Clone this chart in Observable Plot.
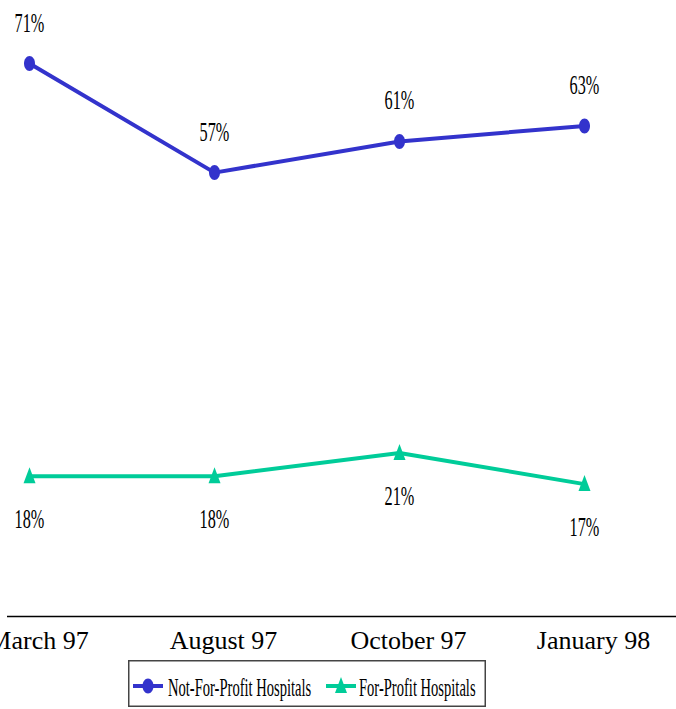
<!DOCTYPE html>
<html>
<head>
<meta charset="utf-8">
<script src="https://cdn.jsdelivr.net/npm/d3@7"></script>
<script src="https://cdn.jsdelivr.net/npm/@observablehq/plot@0.6"></script>
<style>
  html, body { margin: 0; padding: 0; background: #fff; }
  #chart { width: 676px; }
  #legend { margin: 2px 0 0 128px; }
</style>
</head>
<body>
<div id="chart"></div>
<div id="legend"></div>
<script>
const months = ["March 97", "August 97", "October 97", "January 98"];
const notForProfit = [71, 57, 61, 63];
const forProfit = [18, 18, 21, 17];
const seriesNames = ["Not-For-Profit Hospitals", "For-Profit Hospitals"];
const seriesColors = ["#3333cc", "#00cc99"];

const nfp = months.map((m, i) => ({month: m, value: notForProfit[i]}));
const fp = months.map((m, i) => ({month: m, value: forProfit[i]}));

const ellipse = {
  draw(ctx) {
    const rx = 5.5, ry = 7.5, k = 0.5523;
    ctx.moveTo(0, -ry);
    ctx.bezierCurveTo(rx * k, -ry, rx, -ry * k, rx, 0);
    ctx.bezierCurveTo(rx, ry * k, rx * k, ry, 0, ry);
    ctx.bezierCurveTo(-rx * k, ry, -rx, ry * k, -rx, 0);
    ctx.bezierCurveTo(-rx, -ry * k, -rx * k, -ry, 0, -ry);
    ctx.closePath();
  }
};
const tri = {
  draw(ctx) {
    ctx.moveTo(0, -9);
    ctx.lineTo(6, 7);
    ctx.lineTo(-6, 7);
    ctx.closePath();
  }
};

const W = 676, H = 658;
const chart = Plot.plot({
  width: W,
  height: H,
  marginLeft: 7,
  marginRight: 0,
  marginTop: 0,
  marginBottom: H - 616,
  style: {background: "white", overflow: "visible"},
  x: {type: "point", domain: months, range: [28, 585], padding: 0},
  y: {domain: [0, 80], range: [616, -7], axis: null},
  marks: [
    Plot.ruleY([0], {stroke: "#000", strokeWidth: 1.5}),
    Plot.axisX({tickSize: 0, tickPadding: 14, dx: 9, fontSize: 26, fontFamily: "Liberation Serif", label: null, color: "#000"}),
    Plot.line(nfp, {x: "month", y: "value", stroke: seriesColors[0], strokeWidth: 4}),
    Plot.dot(nfp, {x: "month", y: "value", symbol: ellipse, fill: seriesColors[0], stroke: "none"}),
    Plot.text(nfp, {x: "month", y: "value", text: d => d.value + "%", dy: -41, fontSize: 28, fontFamily: "Liberation Serif", fill: "#000", lineAnchor: "middle", className: "lbl"}),
    Plot.line(fp, {x: "month", y: "value", stroke: seriesColors[1], strokeWidth: 4}),
    Plot.dot(fp, {x: "month", y: "value", symbol: tri, fill: seriesColors[1], stroke: "none"}),
    Plot.text(fp, {x: "month", y: "value", text: d => d.value + "%", dy: 43, fontSize: 28, fontFamily: "Liberation Serif", fill: "#000", lineAnchor: "middle", className: "lbl"})
  ]
});
document.getElementById("chart").appendChild(chart);

function squeeze(sel, f) {
  sel.each(function() {
    const w = this.getComputedTextLength();
    this.setAttribute("textLength", w * f);
    this.setAttribute("lengthAdjust", "spacingAndGlyphs");
  });
}
squeeze(d3.selectAll("#chart .lbl text"), 0.58);

// Legend
const LW = 358, LH = 47, SX = 0.56;
const lsvg = d3.select("#legend").append("svg").attr("width", LW).attr("height", LH);
lsvg.append("rect").attr("x", 0.75).attr("y", 0.75).attr("width", LW - 1.5).attr("height", LH - 1.5)
  .attr("fill", "white").attr("stroke", "#444").attr("stroke-width", 1.5);
const items = [
  {name: seriesNames[0], color: seriesColors[0], sym: ellipse, x: 5, tx: 40},
  {name: seriesNames[1], color: seriesColors[1], sym: tri, x: 198, tx: 231}
];
items.forEach(it => {
  const g = lsvg.append("g");
  g.append("line").attr("x1", it.x).attr("x2", it.x + 30).attr("y1", 26).attr("y2", 26)
    .attr("stroke", it.color).attr("stroke-width", 4);
  g.append("path").attr("d", d3.symbol(it.sym)()).attr("transform", `translate(${it.x + 15},26)`).attr("fill", it.color);
  g.append("text").attr("transform", `translate(${it.tx},36) scale(${SX},1)`)
    .attr("font-family", "Liberation Serif").attr("font-size", 26)
    .attr("fill", "#000").text(it.name);
});
</script>
</body>
</html>
